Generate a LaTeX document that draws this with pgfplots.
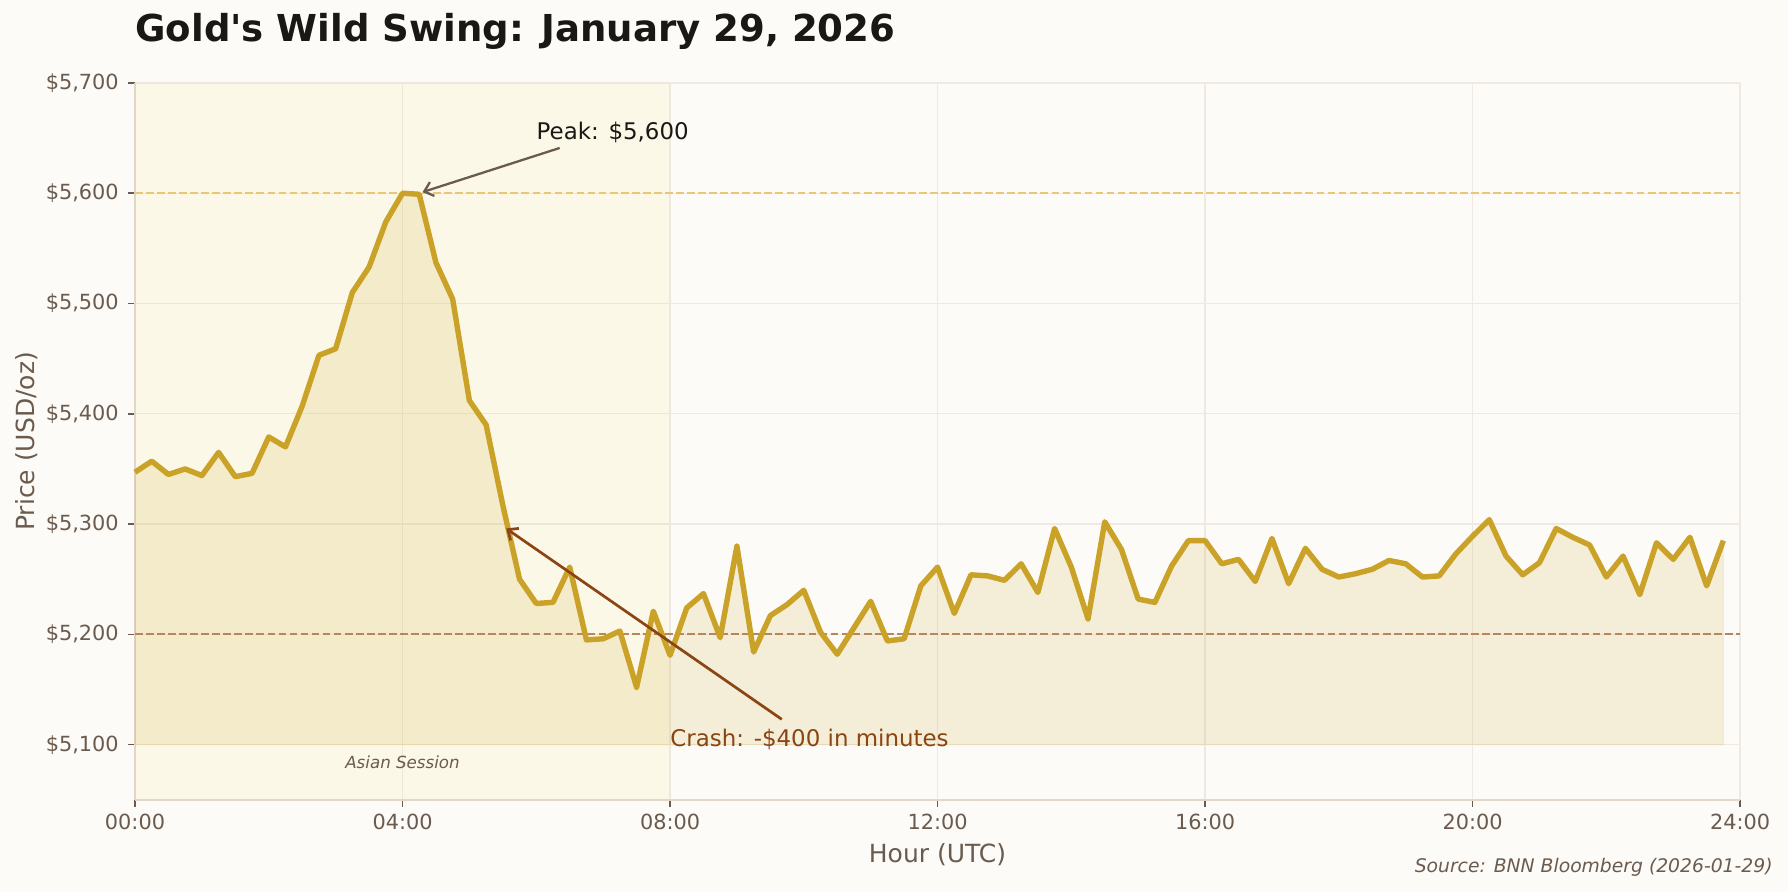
\documentclass[border=0pt]{standalone}
\usepackage{pgfplots}
\pgfplotsset{compat=1.18}
\usepackage{pgfplotstable}
\usepgfplotslibrary{fillbetween}
\usetikzlibrary{arrows.meta}
\usepackage{fontspec}
\setmainfont{DejaVu Sans}[Ligatures=TeXOff]
\definecolor{bgc}{HTML}{FCFBF7}
\definecolor{goldc}{HTML}{C9A227}
\definecolor{bandc}{HTML}{FFD700}
\definecolor{gridc}{HTML}{EFE9E1}
\definecolor{spinec}{HTML}{E2D8CA}
\definecolor{tickc}{HTML}{6B5B4E}
\definecolor{peakc}{HTML}{E8C776}
\definecolor{lowc}{HTML}{B5865F}
\definecolor{crashc}{HTML}{8B4513}
\definecolor{titlec}{HTML}{1A1814}

\pgfplotstableread{
h p
0.00 5347
0.25 5357
0.50 5345
0.75 5350
1.00 5344
1.25 5365
1.50 5343
1.75 5346
2.00 5379
2.25 5370
2.50 5407
2.75 5453
3.00 5459
3.25 5510
3.50 5533
3.75 5574
4.00 5600
4.25 5599
4.50 5537
4.75 5504
5.00 5412
5.25 5390
5.50 5317
5.75 5250
6.00 5228
6.25 5229
6.50 5261
6.75 5195
7.00 5196
7.25 5203
7.50 5152
7.75 5221
8.00 5181
8.25 5224
8.50 5237
8.75 5197
9.00 5280
9.25 5184
9.50 5217
9.75 5227
10.00 5240
10.25 5202
10.50 5182
10.75 5206
11.00 5230
11.25 5194
11.50 5196
11.75 5244
12.00 5261
12.25 5219
12.50 5254
12.75 5253
13.00 5249
13.25 5264
13.50 5238
13.75 5296
14.00 5261
14.25 5214
14.50 5302
14.75 5277
15.00 5232
15.25 5229
15.50 5262
15.75 5285
16.00 5285
16.25 5264
16.50 5268
16.75 5248
17.00 5287
17.25 5246
17.50 5278
17.75 5259
18.00 5252
18.25 5255
18.50 5259
18.75 5267
19.00 5264
19.25 5252
19.50 5253
19.75 5273
20.00 5289
20.25 5304
20.50 5271
20.75 5254
21.00 5265
21.25 5296
21.50 5288
21.75 5281
22.00 5252
22.25 5271
22.50 5236
22.75 5283
23.00 5268
23.25 5288
23.50 5244
23.75 5285
}\gold

\begin{document}%
\pagecolor{bgc}%
\begin{tikzpicture}
\begin{axis}[
  name=ax,
  scale only axis,
  width=770.4pt, height=344.1pt,
  xmin=0, xmax=24, ymin=5050, ymax=5700,
  axis lines*=left,
  axis line style={spinec, line width=1pt},
  xtick={0,4,8,12,16,20,24},
  xticklabels={00:00,04:00,08:00,12:00,16:00,20:00,24:00},
  ytick={5100,5200,5300,5400,5500,5600,5700},
  yticklabels={{\$5,100},{\$5,200},{\$5,300},{\$5,400},{\$5,500},{\$5,600},{\$5,700}},
  tick align=outside,
  major tick length=3.3pt,
  tick style={tickc, line width=0.8pt},
  ticklabel style={font=\fontsize{10}{12}\selectfont, text=tickc},
  yticklabel style={xshift=-1pt},
  /pgf/number format/assume math mode=true,
  grid=major,
  grid style={gridc, line width=0.6pt},
  xlabel={Hour (UTC)},
  ylabel={Price (USD/oz)},
  xlabel style={font=\fontsize{12}{14}\selectfont, text=tickc, at={(axis description cs:0.5,-0.0869)}, anchor=base},
  ylabel style={font=\fontsize{12}{14}\selectfont, text=tickc, at={(axis description cs:-0.0672,0.5)}, anchor=center},
  clip=false,
]
% Asian session band
\addplot[draw=none, fill=bandc, fill opacity=0.06] coordinates {(0,5050) (8,5050) (8,5700) (0,5700)} -- cycle;
% fill under curve
\addplot[name path=A, draw=none] table[x=h,y=p] {\gold};
\addplot[name path=B, draw=none] coordinates {(0,5100) (23.75,5100)};
\addplot[fill=goldc, fill opacity=0.15, draw=goldc, draw opacity=0.12, line width=0.6pt] fill between[of=A and B];
% reference lines
\addplot[peakc, line width=1pt, dash pattern=on 3.7pt off 1.6pt] coordinates {(0,5600) (24,5600)};
\addplot[lowc, line width=1pt, dash pattern=on 3.7pt off 1.6pt] coordinates {(0,5200) (24,5200)};
% main line
\addplot[goldc, line width=2.6pt, line join=round] table[x=h,y=p] {\gold};
% annotations
\draw[tickc, line width=1.1pt, -{Straight Barb[length=4pt,width=7pt]}] (axis cs:6.35,5641) -- (axis cs:4.3,5601);
\node[anchor=west, inner sep=0pt, font=\fontsize{11}{13}\selectfont, text=titlec] at (axis cs:6,5655) {Peak: \$5,600};
\draw[crashc, line width=1.3pt, -{Straight Barb[length=4pt,width=7pt]}] (axis cs:9.67,5123) -- (axis cs:5.55,5296);
\node[anchor=west, inner sep=0pt, font=\fontsize{11}{13}\selectfont, text=crashc] at (axis cs:8,5105) {Crash: -\$400 in minutes};
\node[anchor=center, inner sep=0pt, font=\fontsize{8}{10}\selectfont\itshape, text=tickc] at (axis cs:4,5084) {Asian Session};
% title and source
\node[anchor=base west, inner sep=0pt, font=\fontsize{17.8}{22}\selectfont\bfseries, text=titlec] at ([yshift=19.8pt]axis description cs:0,1) {Gold's Wild Swing: January 29, 2026};
\node[anchor=base east, inner sep=0pt, font=\fontsize{9}{11}\selectfont\itshape, text=tickc] at ([xshift=15.8pt, yshift=-35.1pt]axis description cs:1,0) {Source: BNN Bloomberg (2026-01-29)};
\end{axis}
\pgfresetboundingbox
\useasboundingbox ([xshift=-64.8pt,yshift=-44.3pt]ax.south west) rectangle ([xshift=23pt,yshift=39.8pt]ax.north east);
\end{tikzpicture}%
\end{document}
